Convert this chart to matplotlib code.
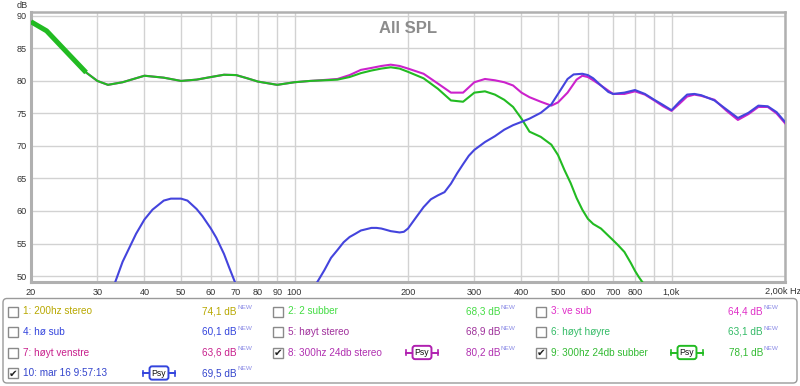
import matplotlib
matplotlib.use('Agg')
import matplotlib.pyplot as plt
from matplotlib.patches import FancyBboxPatch, Rectangle

plt.rcParams['font.family'] = ['Liberation Sans', 'DejaVu Sans']

# ---------------- data ----------------
green_freq = [20, 22, 25, 28, 30, 32, 35, 40, 45, 50, 55, 60, 65, 70, 75, 80, 90, 100,
              110, 120, 130, 140, 150, 160, 170, 180, 190, 200, 220, 240, 260, 280, 300,
              320, 340, 360, 380, 400, 420, 450, 480, 500, 520, 540, 560, 580, 600, 620,
              650, 680, 700, 720, 750, 780, 800, 820, 850]
green_spl = [89.1, 87.7, 84.3, 81.3, 80.0, 79.4, 79.8, 80.8, 80.5, 80.0, 80.2, 80.6, 80.95,
             80.9, 80.4, 79.9, 79.4, 79.8, 80.0, 80.1, 80.2, 80.6, 81.2, 81.6, 81.9, 82.1,
             81.9, 81.4, 80.4, 78.8, 77.0, 76.8, 78.2, 78.4, 77.9, 77.1, 76.0, 74.2, 72.2,
             71.4, 70.2, 68.6, 66.3, 64.3, 62.0, 60.2, 58.8, 58.0, 57.3, 56.2, 55.5, 54.8,
             53.7, 52.0, 50.8, 49.8, 48.5]

magenta_freq = [20, 22, 25, 28, 30, 32, 35, 40, 45, 50, 55, 60, 65, 70, 75, 80, 90, 100,
                110, 120, 130, 140, 150, 160, 170, 180, 190, 200, 220, 240, 260, 280, 300,
                320, 340, 360, 380, 400, 420, 450, 480, 500, 530, 560, 580, 600, 620, 650,
                680, 700, 750, 800, 850, 900, 950, 1000, 1050, 1100, 1150, 1200, 1300,
                1400, 1500, 1600, 1700, 1800, 1900, 2000]
magenta_spl = [89.1, 87.7, 84.3, 81.3, 80.0, 79.4, 79.8, 80.8, 80.5, 80.0, 80.2, 80.6, 80.95,
               80.9, 80.4, 79.9, 79.4, 79.8, 80.0, 80.15, 80.3, 80.9, 81.7, 82.0, 82.3, 82.5,
               82.3, 81.9, 81.1, 79.6, 78.2, 78.2, 79.8, 80.3, 80.1, 79.8, 79.3, 78.2, 77.5,
               76.8, 76.2, 76.7, 78.2, 80.2, 80.8, 80.6, 80.1, 79.3, 78.5, 78.0, 78.0, 78.4,
               77.9, 77.0, 76.1, 75.4, 76.5, 77.6, 77.9, 77.7, 77.1, 75.4, 74.0, 74.9, 76.0,
               76.0, 75.0, 73.5]

blue_freq = [28, 30, 32, 35, 38, 40, 42, 45, 47, 50, 52, 55, 57, 60, 62, 65, 67, 70, 75,
             80, 90, 100, 110, 115, 120, 125, 130, 135, 140, 145, 150, 160, 165, 170, 175,
             180, 185, 190, 195, 200, 210, 220, 230, 240, 250, 260, 270, 280, 290, 300, 320,
             340, 360, 380, 400, 420, 450, 480, 500, 530, 550, 580, 600, 620, 650, 680,
             700, 750, 800, 850, 900, 950, 1000, 1050, 1100, 1150, 1200, 1300, 1400, 1500,
             1600, 1700, 1800, 1900, 2000]
blue_spl = [38.0, 42.0, 46.0, 52.2, 56.5, 58.7, 60.2, 61.6, 61.9, 61.9, 61.6, 60.3, 59.2,
            57.3, 55.9, 53.4, 51.4, 48.6, 43.3, 40.0, 38.0, 40.0, 47.5, 49.1, 50.9, 52.8,
            54.0, 55.2, 56.0, 56.5, 57.0, 57.4, 57.4, 57.3, 57.1, 56.9, 56.8, 56.7, 56.8,
            57.3, 59.0, 60.6, 61.8, 62.4, 62.9, 64.2, 65.8, 67.2, 68.5, 69.4, 70.6, 71.5,
            72.5, 73.2, 73.7, 74.2, 75.1, 76.4, 78.0, 80.3, 81.0, 81.1, 80.9, 80.4, 79.3,
            78.3, 78.0, 78.2, 78.6, 78.0, 77.1, 76.3, 75.5, 76.8, 77.9, 78.0, 77.8, 77.0,
            75.6, 74.3, 75.1, 76.2, 76.1, 75.2, 73.7]

x_ticks = [20, 30, 40, 50, 60, 70, 80, 90, 100, 200, 300, 400, 500, 600, 700, 800, 900,
           1000, 2000]
x_labels = ['20', '30', '40', '50', '60', '70', '80', '90', '100', '200', '300', '400',
            '500', '600', '700', '800', '', '1,0k', '']
y_ticks = [50, 55, 60, 65, 70, 75, 80, 85, 90]

legend_names = ['1: 200hz stereo', '2: 2 subber', '3: ve sub',
                '4: hø sub', '5: høyt stereo', '6: høyt høyre',
                '7: høyt venstre', '8: 300hz 24db stereo', '9: 300hz 24db subber',
                '10: mar 16 9:57:13']
legend_values = ['74,1 dB', '68,3 dB', '64,4 dB',
                 '60,1 dB', '68,9 dB', '63,1 dB',
                 '63,6 dB', '80,2 dB', '78,1 dB',
                 '69,5 dB']
legend_checked = [False, False, False, False, False, False, False, True, True, True]
legend_psy = [False, False, False, False, False, False, False, True, True, True]

# ---------------- styles ----------------
C_GREEN = '#22bb22'
C_MAG = '#cc22cc'
C_BLUE = '#4444dd'
legend_colors = ['#b8a800', '#44dd44', '#e030c8',
                 '#3344dd', '#a0309c', '#33bb66',
                 '#c8208c', '#b030b0', '#33bb33',
                 '#3344cc']
psy_colors = {7: '#b020b0', 8: '#22bb22', 9: '#3344dd'}

W, H = 800, 386
fig = plt.figure(figsize=(W / 100, H / 100), dpi=100)
ax = fig.add_axes([31 / W, 1 - 282 / H, 754 / W, 270 / H])
ax.set_xscale('log')
ax.set_xlim(20, 2000)
ax.set_ylim(49.08, 90.6)

ax.set_xticks(x_ticks)
ax.set_xticklabels(x_labels)
ax.xaxis.set_minor_locator(matplotlib.ticker.NullLocator())
ax.set_yticks(y_ticks)
ax.set_yticklabels([str(v) for v in y_ticks])
ax.tick_params(axis='both', length=0, labelsize=6.6, colors='#333333')
ax.tick_params(axis='x', pad=4)
ax.tick_params(axis='y', pad=3)
ax.grid(True, color='#d2d2d2', lw=1.0)
ax.set_axisbelow(True)
for side, sp in ax.spines.items():
    sp.set_color('#b0b0b0')
    sp.set_linewidth(2.2 if side in ('left', 'bottom') else 1.8)

ax.plot(magenta_freq, magenta_spl, color=C_MAG, lw=1.5, zorder=3,
        solid_joinstyle='round')
ax.plot(green_freq, green_spl, color=C_GREEN, lw=1.5, zorder=4,
        solid_joinstyle='round')
ax.plot(green_freq[:4], green_spl[:4], color=C_GREEN, lw=3.6, zorder=4,
        solid_capstyle='butt')
ax.plot(blue_freq, blue_spl, color=C_BLUE, lw=1.5, zorder=5,
        solid_joinstyle='round')

ax.text(0.5, 0.965, 'All SPL', transform=ax.transAxes, ha='center', va='top',
        fontsize=12, fontweight='bold', color='#8c8c8c', zorder=6)

# ---------------- overlay (pixel coords) ----------------
ov = fig.add_axes([0, 0, 1, 1], zorder=10)
ov.set_xlim(0, W)
ov.set_ylim(H, 0)
ov.axis('off')

ov.text(17, 5.5, 'dB', fontsize=6.6, color='#333333', va='center', ha='left')
ov.text(765, 291.5, '2,00k Hz', fontsize=6.6, color='#333333', va='center', ha='left')

ov.add_patch(FancyBboxPatch((3, 298.5), 794, 84.5,
                            boxstyle='round,pad=0,rounding_size=4',
                            fc='white', ec='#9a9a9a', lw=1.0))

rows_y = [311.5, 332, 352.5, 373]
cols = [dict(cb=8, lab=23, val=237, psy=159),
        dict(cb=273, lab=288, val=500, psy=422),
        dict(cb=536, lab=551, val=763, psy=687)]

for i, name in enumerate(legend_names):
    r, c = divmod(i, 3)
    y = rows_y[r]
    col = cols[c]
    color = legend_colors[i]
    ov.add_patch(Rectangle((col['cb'], y - 5), 10, 10, fc='white', ec='#8a8a8a', lw=1.0))
    if legend_checked[i]:
        ov.text(col['cb'] + 5.5, y + 0.5, '✔', fontsize=7.5, color='#222222',
                ha='center', va='center', family=['DejaVu Sans'])
    ov.text(col['lab'], y, name, fontsize=7.2, color=color, ha='left', va='center')
    ov.text(col['val'], y, legend_values[i], fontsize=7.2, color=color,
            ha='right', va='center')
    ov.text(col['val'] + 0.5, y - 4, 'NEW', fontsize=4.6, color='#8a8ae6',
            ha='left', va='center')
    if legend_psy[i]:
        pc = psy_colors[i]
        cx = col['psy']
        ov.plot([cx - 16, cx + 16], [y, y], color=pc, lw=1.4, zorder=1)
        ov.plot([cx - 16, cx - 16], [y - 2.5, y + 2.5], color=pc, lw=1.2)
        ov.plot([cx + 16, cx + 16], [y - 2.5, y + 2.5], color=pc, lw=1.2)
        ov.text(cx, y, 'Psy', fontsize=6.2, color='#111111', ha='center', va='center',
                zorder=3,
                bbox=dict(boxstyle='round,pad=0.25,rounding_size=0.3', fc='white',
                          ec=pc, lw=1.4))

fig.savefig('out.png', dpi=100)
